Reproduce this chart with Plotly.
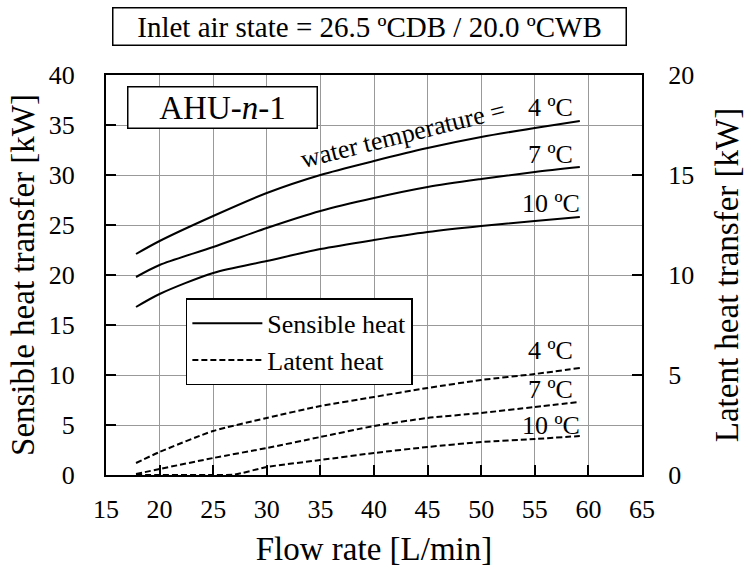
import plotly.graph_objects as go

# ---- data ----
flow = [17.8, 20, 25, 30, 35, 40, 45, 50, 55, 59.2]
sens_4 = [22.1, 23.4, 25.9, 28.2, 30.0, 31.4, 32.7, 33.8, 34.7, 35.4]
sens_7 = [19.8, 21.0, 22.8, 24.7, 26.4, 27.7, 28.8, 29.6, 30.3, 30.8]
sens_10 = [16.8, 18.1, 20.2, 21.4, 22.6, 23.5, 24.3, 24.9, 25.4, 25.8]
lat_4 = [0.6, 1.15, 2.2, 2.85, 3.45, 3.9, 4.35, 4.75, 5.05, 5.35]
lat_7 = [0.05, 0.3, 0.85, 1.35, 1.9, 2.45, 2.85, 3.1, 3.4, 3.65]
flow_lat10 = [17.8, 20, 25, 27, 30, 35, 40, 45, 50, 55, 59.2]
lat_10 = [0, 0, 0, 0.02, 0.4, 0.75, 1.1, 1.4, 1.65, 1.8, 1.95]

x_ticks = [15, 20, 25, 30, 35, 40, 45, 50, 55, 60, 65]
temp_labels = ["4 ºC", "7 ºC", "10 ºC"]

FONT = "Liberation Serif, Times New Roman, serif"

fig = go.Figure()

sens_series = [sens_4, sens_7, sens_10]
for i, ys in enumerate(sens_series):
    fig.add_trace(go.Scatter(
        x=flow, y=ys, mode="lines", name="Sensible heat",
        showlegend=(i == 0),
        line=dict(color="black", width=2, shape="spline", smoothing=0.8),
        yaxis="y"))

lat_series = [(flow, lat_4), (flow, lat_7), (flow_lat10, lat_10)]
for i, (xs, ys) in enumerate(lat_series):
    fig.add_trace(go.Scatter(
        x=xs, y=ys, mode="lines", name="Latent heat",
        showlegend=(i == 0),
        line=dict(color="black", width=2, dash="6px,3px", shape="spline", smoothing=0.6),
        yaxis="y2"))

axis_common = dict(
    showline=True, linecolor="black", linewidth=2,
    ticks="inside", ticklen=10, tickwidth=2, tickcolor="black",
    tickfont=dict(family=FONT, size=26, color="black"),
    zeroline=False,
)
GRID = "#999999"

fig.update_layout(
    width=751, height=573,
    margin=dict(l=106, r=108, t=75, b=95),
    paper_bgcolor="white", plot_bgcolor="white",
    font=dict(family=FONT, color="black"),
    xaxis=dict(
        range=[15, 65], tickvals=x_ticks, mirror=True,
        showgrid=True, gridcolor=GRID,
        ticklabelstandoff=10,
        title=dict(text="Flow rate [L/min]", font=dict(family=FONT, size=33, color="black"), standoff=14),
        **axis_common),
    yaxis=dict(
        range=[0, 40], dtick=5, tick0=0,
        showgrid=True, gridcolor=GRID,
        ticklabelstandoff=24,
        title=dict(text="Sensible heat transfer [kW]", font=dict(family=FONT, size=33, color="black"), standoff=4),
        **axis_common),
    yaxis2=dict(
        range=[0, 20], dtick=5, tick0=0, overlaying="y", side="right",
        showgrid=False, ticklabelstandoff=19,
        title=dict(text="Latent heat transfer [kW]", font=dict(family=FONT, size=33, color="black"), standoff=22),
        **axis_common),
    legend=dict(
        x=0.149, y=0.4417, xanchor="left", yanchor="top",
        bgcolor="white", bordercolor="black", borderwidth=1.5,
        font=dict(family=FONT, size=26, color="black"),
        itemwidth=70, tracegroupgap=0),
    showlegend=True,
)

ann_font = dict(family=FONT, size=26, color="black")
annotations = [
    dict(text="Inlet air state = 26.5 ºCDB / 20.0 ºCWB", xref="paper", yref="paper",
         x=0.4916, y=1.1203, xanchor="center", yanchor="middle", showarrow=False,
         font=dict(family=FONT, size=29, color="black"),
         bordercolor="black", borderwidth=1.5, borderpad=1, width=510, height=34, bgcolor="white"),
    dict(text="AHU-<i>n</i>-1", xref="paper", yref="paper", x=0.217, y=0.918,
         xanchor="center", yanchor="middle", showarrow=False,
         font=dict(family=FONT, size=33, color="black"),
         bordercolor="black", borderwidth=1.5, borderpad=0, width=188, height=40, bgcolor="white"),
    dict(text="water temperature =", xref="x", yref="y", x=42.7, y=34.1, textangle=-14,
         xanchor="center", yanchor="middle", showarrow=False, font=ann_font),
]
sens_label_y = [36.8, 32.1, 27.2]
lat_label_y = [12.5, 8.6, 5.0]
for lab, ys in zip(temp_labels, sens_label_y):
    annotations.append(dict(text=lab, xref="x", yref="y", x=56.5, y=ys, xanchor="center",
                            yanchor="middle", showarrow=False, font=ann_font))
for lab, ys in zip(temp_labels, lat_label_y):
    annotations.append(dict(text=lab, xref="x", yref="y", x=56.5, y=ys, xanchor="center",
                            yanchor="middle", showarrow=False, font=ann_font))
fig.update_layout(annotations=annotations)

fig.write_html("out.html", config={"displayModeBar": False},
               post_script="document.body.style.margin='0px';")
